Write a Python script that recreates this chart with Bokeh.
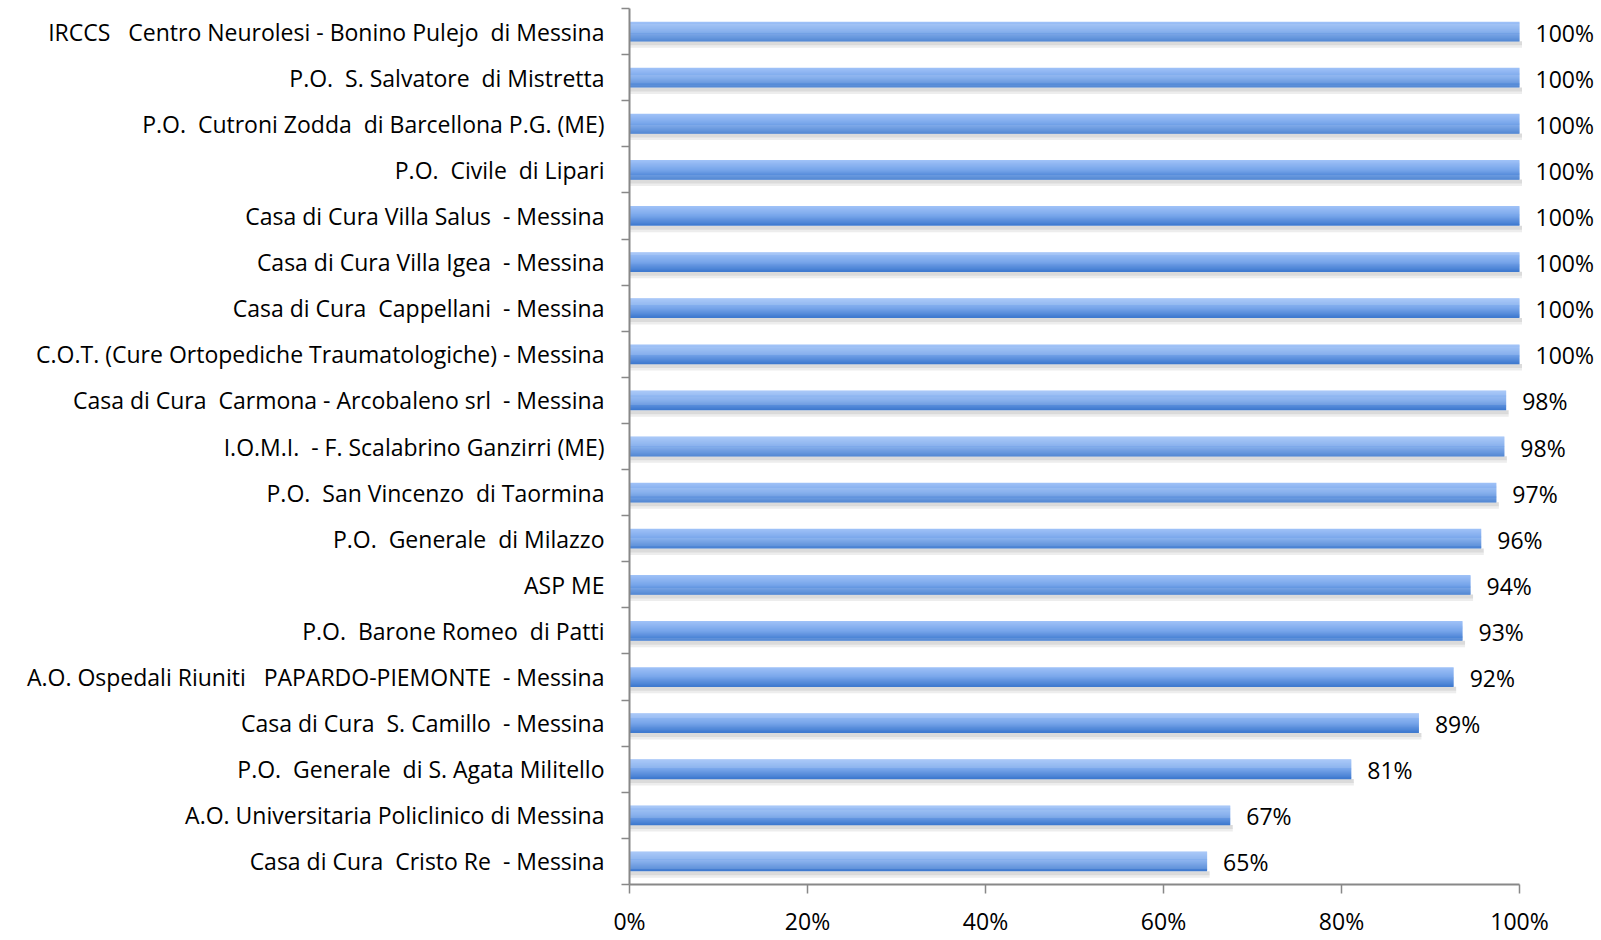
from bokeh.plotting import figure
from bokeh.models import Range1d, FixedTicker, ColumnDataSource
from bokeh.embed import file_html
from bokeh.resources import INLINE
from bokeh.core.properties import value

names = [
    "IRCCS   Centro Neurolesi - Bonino Pulejo  di Messina",
    "P.O.  S. Salvatore  di Mistretta",
    "P.O.  Cutroni Zodda  di Barcellona P.G. (ME)",
    "P.O.  Civile  di Lipari",
    "Casa di Cura Villa Salus  - Messina",
    "Casa di Cura Villa Igea  - Messina",
    "Casa di Cura  Cappellani  - Messina",
    "C.O.T. (Cure Ortopediche Traumatologiche) - Messina",
    "Casa di Cura  Carmona - Arcobaleno srl  - Messina",
    "I.O.M.I.  - F. Scalabrino Ganzirri (ME)",
    "P.O.  San Vincenzo  di Taormina",
    "P.O.  Generale  di Milazzo",
    "ASP ME",
    "P.O.  Barone Romeo  di Patti",
    "A.O. Ospedali Riuniti   PAPARDO-PIEMONTE  - Messina",
    "Casa di Cura  S. Camillo  - Messina",
    "P.O.  Generale  di S. Agata Militello",
    "A.O. Universitaria Policlinico di Messina",
    "Casa di Cura  Cristo Re  - Messina",
]
values = [1.0, 1.0, 1.0, 1.0, 1.0, 1.0, 1.0, 1.0, 0.985, 0.983, 0.974, 0.957,
          0.945, 0.936, 0.926, 0.887, 0.811, 0.675, 0.649]
value_labels = ["100%", "100%", "100%", "100%", "100%", "100%", "100%", "100%",
                "98%", "98%", "97%", "96%", "94%", "93%", "92%", "89%", "81%",
                "67%", "65%"]
x_ticks = [0, 0.2, 0.4, 0.6, 0.8, 1.0]
x_tick_labels = ["0%", "20%", "40%", "60%", "80%", "100%"]

FONT = "Open Sans"
FS = "23px"
n = len(names)
centers = [i + 0.5 for i in range(n)]

# keep repeated spaces visible (SVG collapses plain runs of spaces)
display_names = [nm.replace("  ", " \u00a0") for nm in names]

W, H = 1600, 940
left_b, top_b, bottom_b = 629, 8, 56
frame_w = W - left_b
px_per_unit = 890.0
x_end = frame_w / px_per_unit
frame_h = H - top_b - bottom_b
px_per_cat = frame_h / n

p = figure(width=W, height=H, output_backend="svg", toolbar_location=None,
           x_range=Range1d(0, x_end), y_range=Range1d(n, 0),
           min_border_left=left_b, min_border_right=0, min_border_top=top_b,
           min_border_bottom=bottom_b)
p.outline_line_color = None
p.grid.visible = False

bar_h = 19.5 / px_per_cat
# shadow
sh_src = ColumnDataSource(dict(y=[c + bar_h / 2 + 2.0 / px_per_cat for c in centers],
                               right=[v + 2.5 / px_per_unit for v in values]))
p.hbar(y="y", left=0, right="right", height=4.0 / px_per_cat, source=sh_src,
       fill_color="#bdbdbd", fill_alpha=0.55, line_color=None)
sh_src2 = ColumnDataSource(dict(y=[c + bar_h / 2 + 5.0 / px_per_cat for c in centers],
                                right=[v + 2.5 / px_per_unit for v in values]))
p.hbar(y="y", left=0, right="right", height=3.0 / px_per_cat, source=sh_src2,
       fill_color="#dcdcdc", fill_alpha=0.5, line_color=None)

# gradient bar
top_c = (160, 195, 248)
mid_c = (120, 166, 235)
bot_c = (60, 120, 206)
NS = 20
for k in range(NS):
    t = (k + 0.5) / NS
    if t < 0.5:
        u = t / 0.5
        c = tuple(int(top_c[j] + (mid_c[j] - top_c[j]) * u) for j in range(3))
    else:
        u = (t - 0.5) / 0.5
        c = tuple(int(mid_c[j] + (bot_c[j] - mid_c[j]) * u) for j in range(3))
    col = "#%02x%02x%02x" % c
    src = ColumnDataSource(dict(y=[ci - bar_h / 2 + (k + 0.5) * bar_h / NS for ci in centers],
                                right=values))
    p.hbar(y="y", left=0, right="right", height=bar_h / NS * 1.3, source=src,
           fill_color=col, line_color=None)

lab_src = ColumnDataSource(dict(x=values, y=[c + 1.0 / px_per_cat for c in centers],
                                t=value_labels))
p.text(x="x", y="y", text="t", source=lab_src, x_offset=16,
       text_font=value(FONT), text_font_size=FS, text_baseline="middle",
       text_align="left", text_color="#000000")

# y axis
ya = p.yaxis[0]
ya.ticker = FixedTicker(ticks=centers, minor_ticks=list(range(n + 1)))
ya.major_label_overrides = {c: nm for c, nm in zip(centers, display_names)}
ya.major_tick_out = 0
ya.major_tick_in = 0
ya.minor_tick_out = 8
ya.minor_tick_in = 0
ya.minor_tick_line_color = "#888888"
ya.minor_tick_line_width = 1.5
ya.axis_line_color = "#888888"
ya.axis_line_width = 2
ya.major_label_standoff = 17
ya.major_label_text_font = FONT
ya.major_label_text_font_size = FS
ya.major_label_text_color = "#000000"

# x axis
xa = p.xaxis[0]
xa.ticker = FixedTicker(ticks=x_ticks, minor_ticks=[])
xa.major_label_overrides = {t: l for t, l in zip(x_ticks, x_tick_labels)}
xa.bounds = (0, 1)
xa.major_tick_out = 9
xa.major_tick_in = 0
xa.major_tick_line_color = "#888888"
xa.major_tick_line_width = 1.5
xa.axis_line_color = "#888888"
xa.axis_line_width = 2
xa.major_label_standoff = 11
xa.major_label_text_font = FONT
xa.major_label_text_font_size = FS
xa.major_label_text_color = "#000000"

open("out.html", "w").write(file_html(p, INLINE))
